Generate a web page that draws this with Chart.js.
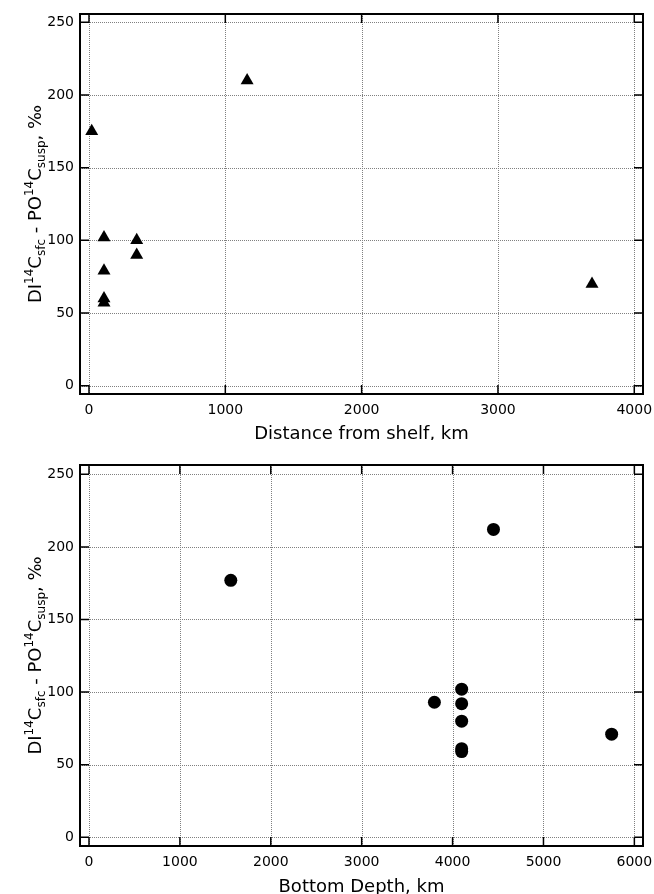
<!DOCTYPE html>
<html>
<head>
<meta charset="utf-8">
<script src="https://cdn.jsdelivr.net/npm/chart.js@4"></script>
<style>
  body { margin: 0; background: #fff; }
  canvas { display: block; }
</style>
</head>
<body>
<canvas id="grafico-distancia" width="654" height="440"></canvas>
<canvas id="grafico-profundidade" width="654" height="454"></canvas>
<script>
// dados
const distShelf = [20, 1160, 110, 110, 110, 110, 350, 350, 3690];
const diffTop = [175, 210, 102, 79, 60, 57, 100, 90, 70];
const bottomDepth = [1560, 4450, 3800, 4100, 4100, 4100, 4100, 4100, 5750];
const diffBottom = [177, 212, 93, 102, 92, 80, 61, 59, 71];
const yTicks = [0, 50, 100, 150, 200, 250];
const xTicksTop = [0, 1000, 2000, 3000, 4000];
const xTicksBottom = [0, 1000, 2000, 3000, 4000, 5000, 6000];

const FONT = '"DejaVu Sans", sans-serif';

function pontos(xs, ys) {
    return xs.map((x, i) => ({ x: x, y: ys[i] }));
}

// grade pontilhada, moldura e ticks para dentro
const moldura = {
    id: "moldura",
    beforeDatasetsDraw(chart) {
        const { ctx, chartArea: a, scales } = chart;
        const xs = scales.x.ticks.map(t => scales.x.getPixelForValue(t.value));
        const ys = scales.y.ticks.map(t => scales.y.getPixelForValue(t.value));
        ctx.save();
        ctx.strokeStyle = "#808080";
        ctx.lineWidth = 1;
        ctx.setLineDash([1, 1]);
        ctx.beginPath();
        xs.forEach(px => { const p = Math.round(px) + 0.5; ctx.moveTo(p, a.top); ctx.lineTo(p, a.bottom); });
        ys.forEach(py => { const p = Math.round(py) + 0.5; ctx.moveTo(a.left, p); ctx.lineTo(a.right, p); });
        ctx.stroke();
        ctx.setLineDash([]);
        ctx.strokeStyle = "#000";
        ctx.lineWidth = 1.5;
        ctx.beginPath();
        xs.forEach(px => {
            ctx.moveTo(px, a.top); ctx.lineTo(px, a.top + 9);
            ctx.moveTo(px, a.bottom); ctx.lineTo(px, a.bottom - 9);
        });
        ys.forEach(py => {
            ctx.moveTo(a.left, py); ctx.lineTo(a.left + 9, py);
            ctx.moveTo(a.right, py); ctx.lineTo(a.right - 9, py);
        });
        ctx.stroke();
        ctx.lineWidth = 2;
        ctx.strokeRect(a.left, a.top, a.right - a.left, a.bottom - a.top);
        ctx.restore();
    },
    afterDraw(chart, args, opts) {
        const { ctx, chartArea: a } = chart;
        ctx.save();
        ctx.fillStyle = "#000";
        ctx.font = "18px " + FONT;
        ctx.textAlign = "center";
        ctx.textBaseline = "middle";
        ctx.fillText(opts.xTitle, (a.left + a.right) / 2, opts.xTitleY);

        // titulo do eixo y com sobrescritos e subscritos
        const partes = [
            ["DI", 0], ["14", -1], ["C", 0], ["sfc", 1], [" - PO", 0],
            ["14", -1], ["C", 0], ["susp", 1], [", \u2030", 0]
        ];
        const fonte = k => (k === 0 ? "18px " : "12px ") + FONT;
        let total = 0;
        partes.forEach(([t, k]) => { ctx.font = fonte(k); total += ctx.measureText(t).width; });
        ctx.translate(41, (a.top + a.bottom) / 2);
        ctx.rotate(-Math.PI / 2);
        ctx.textAlign = "left";
        ctx.textBaseline = "alphabetic";
        let x = -total / 2;
        partes.forEach(([t, k]) => {
            ctx.font = fonte(k);
            const dy = k === -1 ? -8 : (k === 1 ? 4 : 0);
            ctx.fillText(t, x, dy);
            x += ctx.measureText(t).width;
        });
        ctx.restore();
    }
};

function criaGrafico(id, dados, estilo, raio, xMin, xMax, xTicks, yMin, yMax, topo, alturaX, titulo, tituloY) {
    return new Chart(document.getElementById(id), {
        type: "scatter",
        data: {
            datasets: [{
                data: dados,
                pointStyle: estilo,
                pointRadius: raio,
                pointHoverRadius: raio,
                backgroundColor: "#000",
                borderColor: "#000",
                borderWidth: 0
            }]
        },
        options: {
            responsive: false,
            animation: false,
            events: [],
            layout: { padding: { top: topo, right: 11, left: 0, bottom: 0 } },
            plugins: {
                legend: { display: false },
                tooltip: { enabled: false },
                moldura: { xTitle: titulo, xTitleY: tituloY }
            },
            scales: {
                x: {
                    type: "linear",
                    min: xMin,
                    max: xMax,
                    afterBuildTicks: s => { s.ticks = xTicks.map(v => ({ value: v })); },
                    afterFit: s => { s.height = alturaX; s.paddingLeft = 0; s.paddingRight = 0; },
                    grid: { display: false, drawTicks: false },
                    border: { display: false },
                    ticks: {
                        color: "#000",
                        font: { family: FONT, size: 14 },
                        padding: 8,
                        maxRotation: 0,
                        autoSkip: false,
                        callback: v => String(v)
                    }
                },
                y: {
                    type: "linear",
                    min: yMin,
                    max: yMax,
                    afterBuildTicks: s => { s.ticks = yTicks.map(v => ({ value: v })); },
                    afterFit: s => { s.width = 80; s.paddingTop = 0; s.paddingBottom = 0; },
                    grid: { display: false, drawTicks: false },
                    border: { display: false },
                    ticks: {
                        color: "#000",
                        font: { family: FONT, size: 14 },
                        padding: 6,
                        callback: v => String(v)
                    }
                }
            }
        },
        plugins: [moldura]
    });
}

criaGrafico("grafico-distancia", pontos(distShelf, diffTop), "triangle", 7.5,
    -66, 4064, xTicksTop, -5.7, 255.7, 14, 46, "Distance from shelf, km", 434);

criaGrafico("grafico-profundidade", pontos(bottomDepth, diffBottom), "circle", 6.5,
    -99, 6095, xTicksBottom, -6, 256.4, 25, 48, "Bottom Depth, km", 447);
</script>
</body>
</html>
